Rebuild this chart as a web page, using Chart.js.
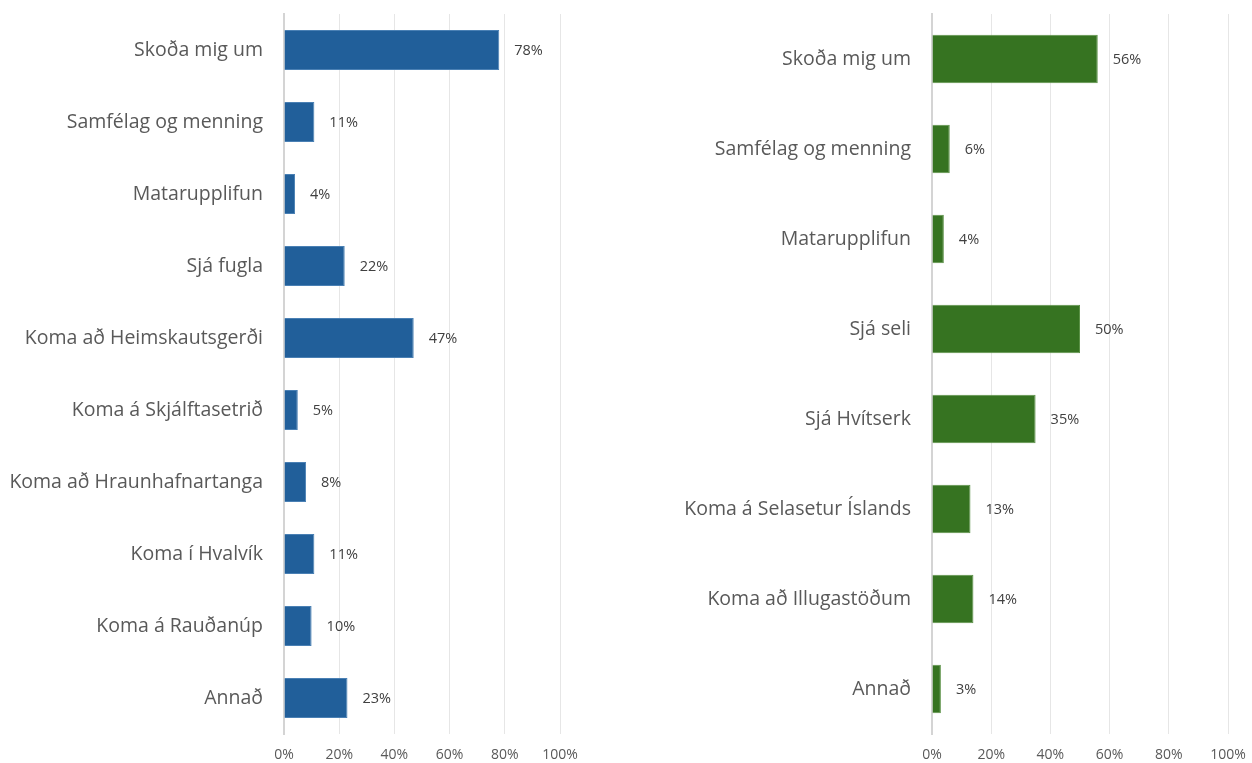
<!DOCTYPE html>
<html>
<head>
<meta charset="utf-8">
<script src="https://cdn.jsdelivr.net/npm/chart.js@4.4.1/dist/chart.umd.min.js"></script>
<style>
  html,body{margin:0;padding:0;background:#fff;}
  body{width:1252px;height:763px;position:relative;overflow:hidden;}
  .box{position:absolute;top:0;height:763px;}
  #b1{left:0;width:600px;}
  #b2{left:640px;width:612px;}
</style>
</head>
<body>
<div class="box" id="b1"><canvas id="c1"></canvas></div>
<div class="box" id="b2"><canvas id="c2"></canvas></div>
<script>
const leftCategories = ["Skoða mig um","Samfélag og menning","Matarupplifun","Sjá fugla","Koma að Heimskautsgerði","Koma á Skjálftasetrið","Koma að Hraunhafnartanga","Koma í Hvalvík","Koma á Rauðanúp","Annað"];
const leftValues = [78, 11, 4, 22, 47, 5, 8, 11, 10, 23];

const rightCategories = ["Skoða mig um","Samfélag og menning","Matarupplifun","Sjá seli","Sjá Hvítserk","Koma á Selasetur Íslands","Koma að Illugastöðum","Annað"];
const rightValues = [56, 6, 4, 50, 35, 13, 14, 3];

const xTickValues = [0, 20, 40, 60, 80, 100];

const FONT = "'Open Sans', sans-serif";

const valueLabels = {
  id: 'valueLabels',
  afterDatasetsDraw(chart) {
    const ctx = chart.ctx;
    const meta = chart.getDatasetMeta(0);
    const data = chart.data.datasets[0].data;
    ctx.save();
    ctx.font = "14.5px " + FONT;
    ctx.fillStyle = "#404040";
    ctx.textAlign = "left";
    ctx.textBaseline = "middle";
    meta.data.forEach((bar, i) => {
      ctx.fillText(data[i] + "%", bar.x + 15, bar.y + 1);
    });
    ctx.restore();
  }
};

function zeroPad(scale) {
  scale.paddingTop = 0; scale.paddingBottom = 0;
  scale.paddingLeft = 0; scale.paddingRight = 0;
}

function makeChart(id, cats, vals, color, border, yWidth, padRight, barPct) {
  return new Chart(document.getElementById(id), {
    type: 'bar',
    data: {
      labels: cats,
      datasets: [{
        data: vals,
        backgroundColor: color,
        borderColor: border,
        borderWidth: 1,
        barPercentage: barPct,
        categoryPercentage: 1.0
      }]
    },
    options: {
      indexAxis: 'y',
      responsive: true,
      maintainAspectRatio: false,
      animation: false,
      layout: { autoPadding: false, padding: { top: 14, right: padRight, left: 0, bottom: 0 } },
      plugins: { legend: { display: false }, tooltip: { enabled: false } },
      scales: {
        x: {
          min: 0, max: 100,
          afterBuildTicks(scale) { scale.ticks = xTickValues.map(v => ({ value: v })); },
          afterFit(scale) { scale.height = 29; zeroPad(scale); },
          ticks: {
            callback: v => v + "%",
            color: "#595959",
            font: { family: FONT, size: 14 },
            padding: 13,
            maxRotation: 0
          },
          grid: { color: "#E6E6E6", lineWidth: 1, drawTicks: false },
          border: { display: false }
        },
        y: {
          afterFit(scale) { scale.width = yWidth; zeroPad(scale); },
          ticks: {
            color: "#595959",
            font: { family: FONT, size: 19.5 },
            padding: 21,
            autoSkip: false
          },
          grid: { display: false, drawTicks: false },
          border: { display: true, color: "#D4D4D4", width: 2 }
        }
      }
    },
    plugins: [valueLabels]
  });
}

makeChart('c1', leftCategories, leftValues, "#215F9A", "#4A80B4", 284, 40, 0.556);
makeChart('c2', rightCategories, rightValues, "#367321", "#5B9146", 292, 24, 0.54);
</script>
</body>
</html>
